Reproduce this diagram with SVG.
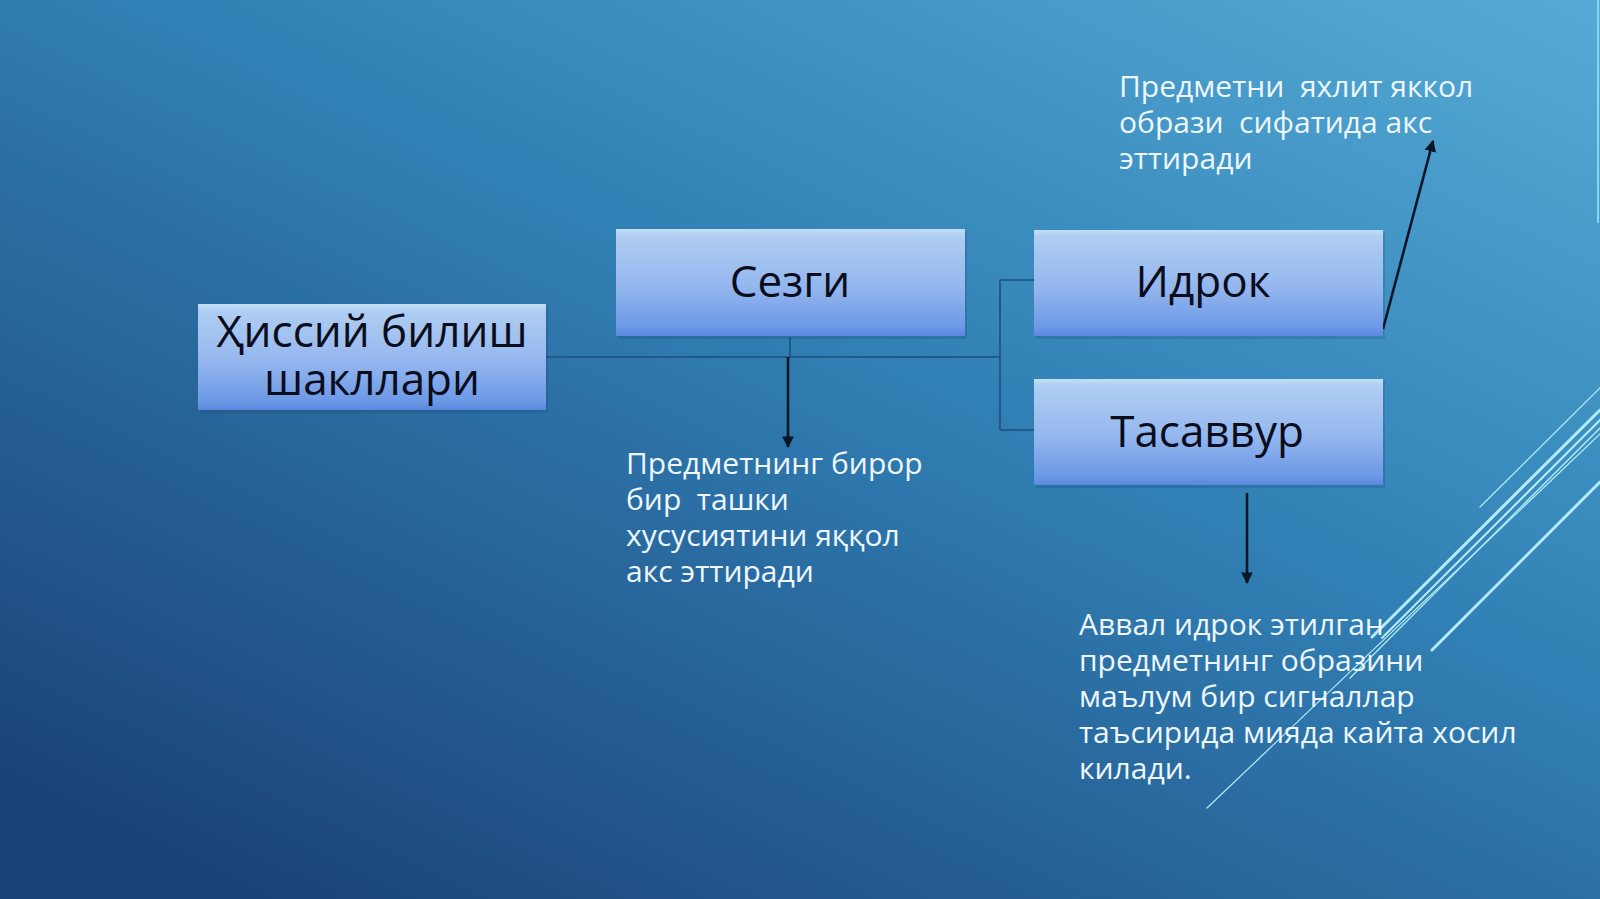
<svg xmlns="http://www.w3.org/2000/svg" width="1600" height="899" viewBox="0 0 1600 899">
  <defs>
    <linearGradient id="bg" x1="1" y1="0" x2="0.15" y2="1">
      <stop offset="0" stop-color="#55abd6"/>
      <stop offset="0.45" stop-color="#3180b5"/>
      <stop offset="1" stop-color="#1b4277"/>
    </linearGradient>
    <linearGradient id="box" x1="0" y1="0" x2="0" y2="1">
      <stop offset="0" stop-color="#c3e0f8"/>
      <stop offset="0.06" stop-color="#b0cef2"/>
      <stop offset="0.55" stop-color="#93b6ee"/>
      <stop offset="0.92" stop-color="#6c98e6"/>
      <stop offset="1" stop-color="#5a88dd"/>
    </linearGradient>
    <marker id="ah" viewBox="0 0 10 10" refX="9" refY="5" markerWidth="4.5" markerHeight="4.5" orient="auto" markerUnits="strokeWidth">
      <path d="M0,0 L10,5 L0,10 z" fill="#0b1528"/>
    </marker>
    <style>
      .node rect.b { fill: url(#box); }
      .node rect.s { fill: #0d2a4a; opacity: 0.15; }
      .lbl { font-family: "Open Sans", "Noto Sans", "DejaVu Sans", sans-serif; font-size: 44px; fill: #0a0d1c; text-anchor: middle; }
      .desc { font-family: "Open Sans", "Noto Sans", "DejaVu Sans", sans-serif; font-size: 30px; fill: #eef7ff; white-space: pre; }
      .conn { stroke: #1d4f7e; stroke-width: 1.6; fill: none; }
      .arr { stroke: #0b1528; stroke-width: 2.6; fill: none; marker-end: url(#ah); }
      .deco { stroke: #b4ecfb; fill: none; stroke-linecap: round; }
    </style>
  </defs>

  <rect x="0" y="0" width="1600" height="899" fill="url(#bg)"/>

  <g id="decoration">
    <line x1="1598" y1="0" x2="1598" y2="223" stroke="#86d3f2" stroke-width="2"/>
    <line class="deco" x1="1480" y1="507" x2="1600" y2="388" stroke-width="1.2"/>
    <line class="deco" x1="1372" y1="637" x2="1600" y2="410" stroke-width="3"/>
    <line class="deco" x1="1382" y1="638" x2="1600" y2="420" stroke-width="2"/>
    <line class="deco" x1="1350" y1="678" x2="1600" y2="428" stroke-width="1.3"/>
    <line class="deco" x1="1207" y1="808" x2="1600" y2="434" stroke-width="1.2"/>
    <line class="deco" x1="1432" y1="650" x2="1600" y2="482" stroke-width="3"/>
  </g>

  <g id="connectors">
    <line class="conn" x1="546" y1="357" x2="1000" y2="357"/>
    <line class="conn" x1="790" y1="337" x2="790" y2="357"/>
    <line class="conn" x1="1000" y1="280" x2="1000" y2="430"/>
    <line class="conn" x1="1000" y1="280" x2="1034" y2="280"/>
    <line class="conn" x1="1000" y1="430" x2="1034" y2="430"/>
    <line class="arr" x1="788" y1="357" x2="788" y2="447"/>
    <line class="arr" x1="1383" y1="329" x2="1433" y2="141"/>
    <line class="arr" x1="1247" y1="493" x2="1247" y2="583"/>
  </g>

  <g id="node-hissiy" class="node">
    <rect class="s" x="200" y="306" width="348" height="107"/>
    <rect class="b" x="198" y="304" width="348" height="106"/>
    <text class="lbl" x="372" y="347">Ҳиссий билиш<tspan x="372" dy="48">шакллари</tspan></text>
  </g>

  <g id="node-sezgi" class="node">
    <rect class="s" x="618" y="231" width="349" height="108"/>
    <rect class="b" x="616" y="229" width="349" height="107"/>
    <text class="lbl" x="790" y="297">Сезги</text>
  </g>

  <g id="node-idrok" class="node">
    <rect class="s" x="1036" y="232" width="349" height="107"/>
    <rect class="b" x="1034" y="230" width="349" height="106"/>
    <text class="lbl" x="1203" y="297">Идрок</text>
  </g>

  <g id="node-tasavvur" class="node">
    <rect class="s" x="1036" y="381" width="349" height="107"/>
    <rect class="b" x="1034" y="379" width="349" height="106"/>
    <text class="lbl" x="1207" y="447">Тасаввур</text>
  </g>

  <g id="text-sezgi">
    <text class="desc" x="626" y="474" xml:space="preserve">Предметнинг бирор<tspan x="626" dy="36">бир  ташки</tspan><tspan x="626" dy="36">хусусиятини яққол</tspan><tspan x="626" dy="36">акс эттиради</tspan></text>
  </g>

  <g id="text-idrok">
    <text class="desc" x="1119" y="97" xml:space="preserve">Предметни  яхлит яккол<tspan x="1119" dy="36">образи  сифатида акс</tspan><tspan x="1119" dy="36">эттиради</tspan></text>
  </g>

  <g id="text-tasavvur">
    <text class="desc" x="1079" y="635" xml:space="preserve">Аввал идрок этилган<tspan x="1079" dy="36">предметнинг образини</tspan><tspan x="1079" dy="36">маълум бир сигналлар</tspan><tspan x="1079" dy="36">таъсирида мияда кайта хосил</tspan><tspan x="1079" dy="36">килади.</tspan></text>
  </g>
</svg>
